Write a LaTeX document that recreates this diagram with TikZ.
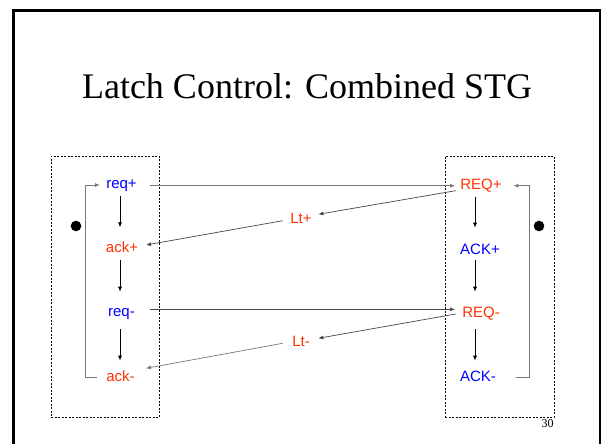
\documentclass[tikz,border=0pt]{standalone}
\usepackage{fontspec}
\setmainfont{Liberation Serif}
\newfontfamily\sigfont{Liberation Sans}
\usetikzlibrary{calc,arrows.meta}

\definecolor{sigred}{RGB}{255,51,0}
\definecolor{sigblue}{RGB}{0,0,255}
\definecolor{wire}{RGB}{70,70,70}
\definecolor{loopwire}{RGB}{120,120,120}

\tikzset{
  sig/.style={inner sep=0pt, anchor=base, font=\sigfont\fontsize{15}{15}\selectfont},
  rsig/.style={sig, text=sigred},
  bsig/.style={sig, text=sigblue},
  tip/.style={-{Latex[length=5pt,width=4pt]}},
  seq/.style={tip, draw=black, line width=0.7pt},
  link/.style={tip, draw=wire, line width=0.7pt},
  back/.style={tip, draw=loopwire, line width=1pt},
  token/.style={circle, fill=black, inner sep=0pt, minimum size=10.6pt},
  group/.style={draw, line width=0.8pt, dash pattern=on 2pt off 1.5pt, inner sep=0pt},
}

\begin{document}
\begin{tikzpicture}[x=1pt, y=-1pt]
  \useasboundingbox (0,0) rectangle (602,444);
  \fill[white] (0,0) rectangle (602,444);

  % slide frame
  \draw[line width=2.6pt] (13.5,470) -- (13.5,10.5) -- (600,10.5) -- (600,470);

  % title and page number
  \node[anchor=base, inner sep=0pt, font=\fontsize{36}{36}\selectfont] (title) at (307,98.3) {Latch Control: Combined STG};
  \node[anchor=base, inner sep=0pt, font=\fontsize{12}{12}\selectfont] (page) at (547.5,427.3) {30};

  % the two component boundaries
  \node[group, minimum width=108pt, minimum height=261pt] (boxL) at (105,286.5) {};
  \node[group, minimum width=109pt, minimum height=261pt] (boxR) at (499.5,286.5) {};

  % left handshake
  \node[bsig] (reqp) at (121.5,188.7) {req+};
  \node[rsig] (ackp) at (122,252.5) {ack+};
  \node[bsig] (reqm) at (121.5,316.7) {req-};
  \node[rsig] (ackm) at (120.5,381) {ack-};

  % right handshake
  \node[rsig] (REQp) at (481,189.3) {REQ+};
  \node[bsig] (ACKp) at (480,254) {ACK+};
  \node[rsig] (REQm) at (481,317.2) {REQ-};
  \node[bsig] (ACKm) at (478,381) {ACK-};

  % latch transitions
  \node[rsig] (Ltp) at (301,223.3) {Lt+};
  \node[rsig] (Ltm) at (301,346) {Lt-};

  % initial tokens
  \node[token] (tokL) at (76,226) {};
  \node[token] (tokR) at (539,226) {};

  % left sequence
  \draw[seq] ($(reqp.base)+(-1.5,7)$) -- ($(ackp.base)+(-2,-25.2)$);
  \draw[seq] ($(ackp.base)+(-2,7.5)$) -- ($(reqm.base)+(-1.5,-25)$);
  \draw[seq] ($(reqm.base)+(-1.5,12.3)$) -- ($(ackm.base)+(-0.5,-20.3)$);
  \draw[back] ($(ackm.base)+(-23.2,-3.3)$) -- ++(-11.6,0) |- ($(reqp.base)+(-21.5,-3.7)$);

  % right sequence
  \draw[seq] ($(REQp.base)+(-6,7.4)$) -- ($(ACKp.base)+(-5,-26.3)$);
  \draw[seq] ($(ACKp.base)+(-5,6)$) -- ($(REQm.base)+(-6,-25.5)$);
  \draw[seq] ($(REQm.base)+(-6,11.8)$) -- ($(ACKm.base)+(-3,-20.3)$);
  \draw[back] ($(ACKm.base)+(37.7,-3.3)$) -- ++(13.3,0) |- ($(REQp.base)+(32.3,-3.6)$);

  % cross links
  \draw[link, draw=loopwire] ($(reqp.base)+(28.2,-3)$) -- ($(REQp.base)+(-26,-3.6)$);
  \draw[link] ($(reqm.base)+(28.2,-7.4)$) -- ($(REQm.base)+(-26,-7.9)$);
  \draw[link] ($(REQp.base)+(-25.3,1.4)$) -- ($(Ltp.base)+(17.3,-9)$);
  \draw[link] ($(Ltp.base)+(-18.3,-2.6)$) -- ($(ackp.base)+(24,-7.5)$);
  \draw[link] ($(REQm.base)+(-25.3,-3.2)$) -- ($(Ltm.base)+(17.3,-7.7)$);
  \draw[link, draw=loopwire] ($(Ltm.base)+(-18.3,-2.7)$) -- ($(ackm.base)+(25.5,-12.7)$);
\end{tikzpicture}
\end{document}
